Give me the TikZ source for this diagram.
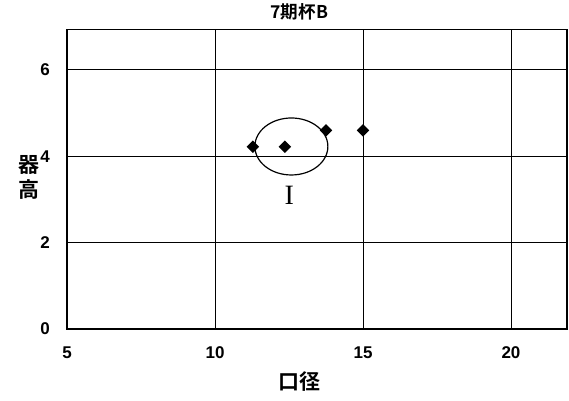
\documentclass[tikz,border=0pt]{standalone}
\usepackage{fontspec}
\setmainfont{Liberation Sans}
\newfontfamily\jpfont{Noto Sans CJK JP}[BoldFont={* Bold}]
\newfontfamily\romanfont{Liberation Serif}
\usetikzlibrary{shapes.geometric,positioning}
\tikzset{
  tickLabel/.style={font=\bfseries\fontsize{8.5}{9}\selectfont, inner sep=1pt},
  findMark/.style={diamond, fill=black, inner sep=0pt, minimum size=6.4pt},
  gridLine/.style={line width=0.45pt}
}

\begin{document}
\begin{tikzpicture}[x=14.8pt, y=21.6pt]
    % Canvas
    \useasboundingbox (2.736,-1.644) rectangle (21.96,7.616);

    % Grid
    \foreach \gx in {10,15,20} \draw[gridLine] (\gx,0) -- (\gx,6.93);
    \foreach \gy in {2,4,6} \draw[gridLine] (5,\gy) -- (21.9,\gy);
    \draw[line width=0.8pt] (5,0) rectangle (21.9,6.93);

    % Tick labels
    \foreach \gy in {0,2,4,6} \node[tickLabel, left] (y\gy) at (4.5,\gy) {\gy};
    \foreach \gx in {5,10,15,20} \node[tickLabel] (x\gx) at (\gx,-0.55) {\gx};

    % Title and axis names
    \node[font=\jpfont\bfseries\fontsize{8.8}{9}\selectfont] (title) at (12.85,7.34) {7期杯B};
    \node[font=\jpfont\bfseries\fontsize{10.5}{11}\selectfont] (xname) at (12.85,-1.22) {口径};
    \node[font=\jpfont\bfseries\fontsize{10.5}{12.5}\selectfont, align=center, inner sep=0pt] (yname) at (3.7,3.5) {器\\高};

    % Finds
    \node[findMark] (p1) at (11.28,4.22) {};
    \node[findMark] (p2) at (12.36,4.22) {};
    \node[findMark] (p3) at (13.75,4.6) {};
    \node[findMark] (p4) at (15,4.6) {};

    % Group I
    \node[ellipse, draw, line width=0.6pt, minimum width=36.5pt, minimum height=28.5pt, inner sep=0pt] (groupI) at (12.58,4.225) {};
    \node[font=\romanfont\fontsize{14}{14}\selectfont, below=2pt of groupI, xshift=-1pt] (groupIlabel) {I};
\end{tikzpicture}
\end{document}
